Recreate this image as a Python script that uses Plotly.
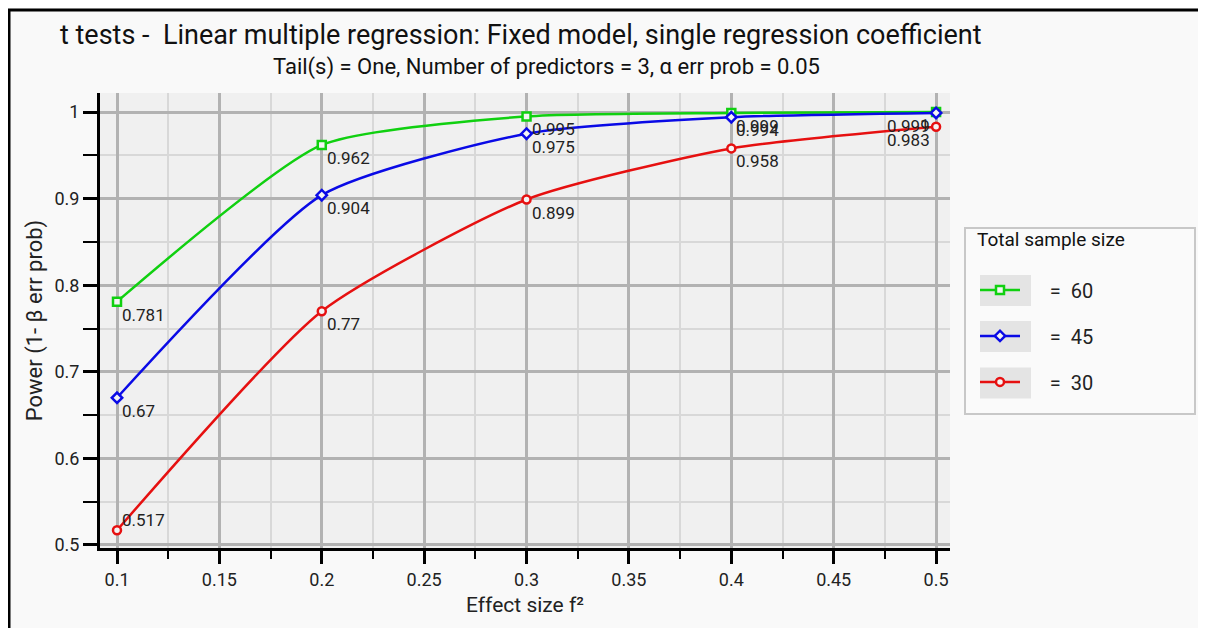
import plotly.graph_objects as go

effect_size = [0.1, 0.2, 0.3, 0.4, 0.5]
power_n60 = [0.781, 0.962, 0.995, 0.999, 1.0]
power_n45 = [0.67, 0.904, 0.975, 0.994, 0.999]
power_n30 = [0.517, 0.77, 0.899, 0.958, 0.983]
label_n60 = ["0.781", "0.962", "0.995", "0.999", "1"]
label_n45 = ["0.67", "0.904", "0.975", "0.994", "0.999"]
label_n30 = ["0.517", "0.77", "0.899", "0.958", "0.983"]
sample_sizes = ["60", "45", "30"]
colors = ["#10d010", "#0a0ae6", "#e61010"]
symbols = ["square", "diamond", "circle"]

FONT = "Roboto, Open Sans, sans-serif"
NB = "\u00a0"
fig = go.Figure()

all_vals = [power_n60, power_n45, power_n30]
all_labels = [label_n60, label_n45, label_n30]
for i in range(3):
    fig.add_trace(go.Scatter(
        x=effect_size, y=all_vals[i],
        name=NB * 5 + "=" + NB * 2 + sample_sizes[i],
        mode="lines+markers", legendgroup=f"g{i}",
        line=dict(color=colors[i], width=2.5, shape="spline", smoothing=0.6),
        marker=dict(symbol=symbols[i], size=8, color="#f4f4f4",
                    line=dict(color=colors[i], width=2.5)),
    ))

annotations = []
for i in range(3):
    for xv, yv, lab in zip(effect_size, all_vals[i], all_labels[i]):
        if xv == 0.1 and i == 2:
            xa, ya, xs, ys = "left", "bottom", 3, -2
        elif xv == 0.5:
            xa, ya, xs, ys = "right", "top", -4, -1
        else:
            xa, ya, xs, ys = "left", "top", 3, -1
        annotations.append(dict(x=xv, y=yv, xref="x", yref="y", text=lab,
                                showarrow=False, xanchor=xa, yanchor=ya,
                                xshift=xs, yshift=ys,
                                font=dict(family=FONT, size=17, color="#222")))

# page offset of the figure (body margin) is 8px; coordinates below are page pixels
OFF = 8
W, H = 1206, 628
PL, PR, PT, PB = 100, 950, 93, 548          # plot area in page pixels
L, T = PL - OFF, PT - OFF
R, B = W - (PR - OFF), H - (PB - OFF)
pw, ph = PR - PL, PB - PT
def px(x):
    return (x - PL) / pw
def py(y):
    return (PB - y) / ph

annotations.append(dict(x=px(58), y=py(35), xref="paper", yref="paper",
                        text="t tests -  Linear multiple regression: Fixed model, single regression coefficient",
                        showarrow=False, xanchor="left", yanchor="middle",
                        font=dict(family=FONT, size=27, color="#111")))
annotations.append(dict(x=px(546), y=py(67), xref="paper", yref="paper",
                        text="Tail(s) = One, Number of predictors = 3, α err prob = 0.05",
                        showarrow=False, xanchor="center", yanchor="middle",
                        font=dict(family=FONT, size=22, color="#111")))

shapes = [
    dict(type="path", xref="paper", yref="paper",
         path=f"M {px(9)} {py(650)} L {px(9)} {py(10)} L {px(1230)} {py(10)}",
         line=dict(color="black", width=3)),
    dict(type="rect", xref="paper", yref="paper",
         x0=px(965), x1=px(1195), y0=py(414), y1=py(228),
         line=dict(color="#c8c8c8", width=2), fillcolor="#fafafa", layer="below"),
]
for k, yc in enumerate([290.5, 336.5, 383]):
    shapes.append(dict(type="rect", xref="paper", yref="paper",
                       x0=px(980), x1=px(1031), y0=py(yc + 15.5), y1=py(yc - 15.5),
                       line=dict(width=0), fillcolor="#e4e4e4", layer="below"))

fig.update_layout(
    width=W, height=H,
    margin=dict(l=L, r=R, t=T, b=B),
    paper_bgcolor="#f9f9f9", plot_bgcolor="#f0f0f0",
    font=dict(family=FONT, size=18, color="#222"),
    showlegend=True,
    legend=dict(x=px(975), y=py(221), xanchor="left", yanchor="top",
                bgcolor="rgba(0,0,0,0)", borderwidth=0,
                title=dict(text="Total sample size<br>", font=dict(size=19, family=FONT, color="#111")),
                font=dict(size=20, family=FONT, color="#222"),
                tracegroupgap=17, itemwidth=40),
    annotations=annotations, shapes=shapes,
    xaxis=dict(range=[0.0917, 0.5068], automargin=False,
               tickvals=[0.1, 0.15, 0.2, 0.25, 0.3, 0.35, 0.4, 0.45, 0.5],
               ticktext=["0.1", "0.15", "0.2", "0.25", "0.3", "0.35", "0.4", "0.45", "0.5"],
               showline=True, linecolor="black", linewidth=3,
               ticks="outside", ticklen=13, tickwidth=3, tickcolor="black",
               showgrid=True, gridcolor="#b2b2b2", gridwidth=3,
               minor=dict(tick0=0.125, dtick=0.05, ticks="outside", ticklen=8, tickwidth=2,
                          tickcolor="black", showgrid=True, gridcolor="#d8d8d8", gridwidth=2),
               zeroline=False, tickfont=dict(size=18),
               title=dict(text="Effect size f²", font=dict(size=21), standoff=9)),
    yaxis=dict(range=[0.4965, 1.022], automargin=False,
               tickvals=[0.5, 0.6, 0.7, 0.8, 0.9, 1.0],
               ticktext=["0.5", "0.6", "0.7", "0.8", "0.9", "1"],
               showline=True, linecolor="black", linewidth=3,
               ticks="outside", ticklen=14, tickwidth=3, tickcolor="black",
               showgrid=True, gridcolor="#b2b2b2", gridwidth=3,
               minor=dict(tick0=0.55, dtick=0.1, ticks="outside", ticklen=14, tickwidth=2,
                          tickcolor="black", showgrid=True, gridcolor="#d8d8d8", gridwidth=2),
               zeroline=False, tickfont=dict(size=18),
               title=dict(text="Power (1- β err prob)", font=dict(size=22), standoff=6)),
)

fig.write_html("out.html")
